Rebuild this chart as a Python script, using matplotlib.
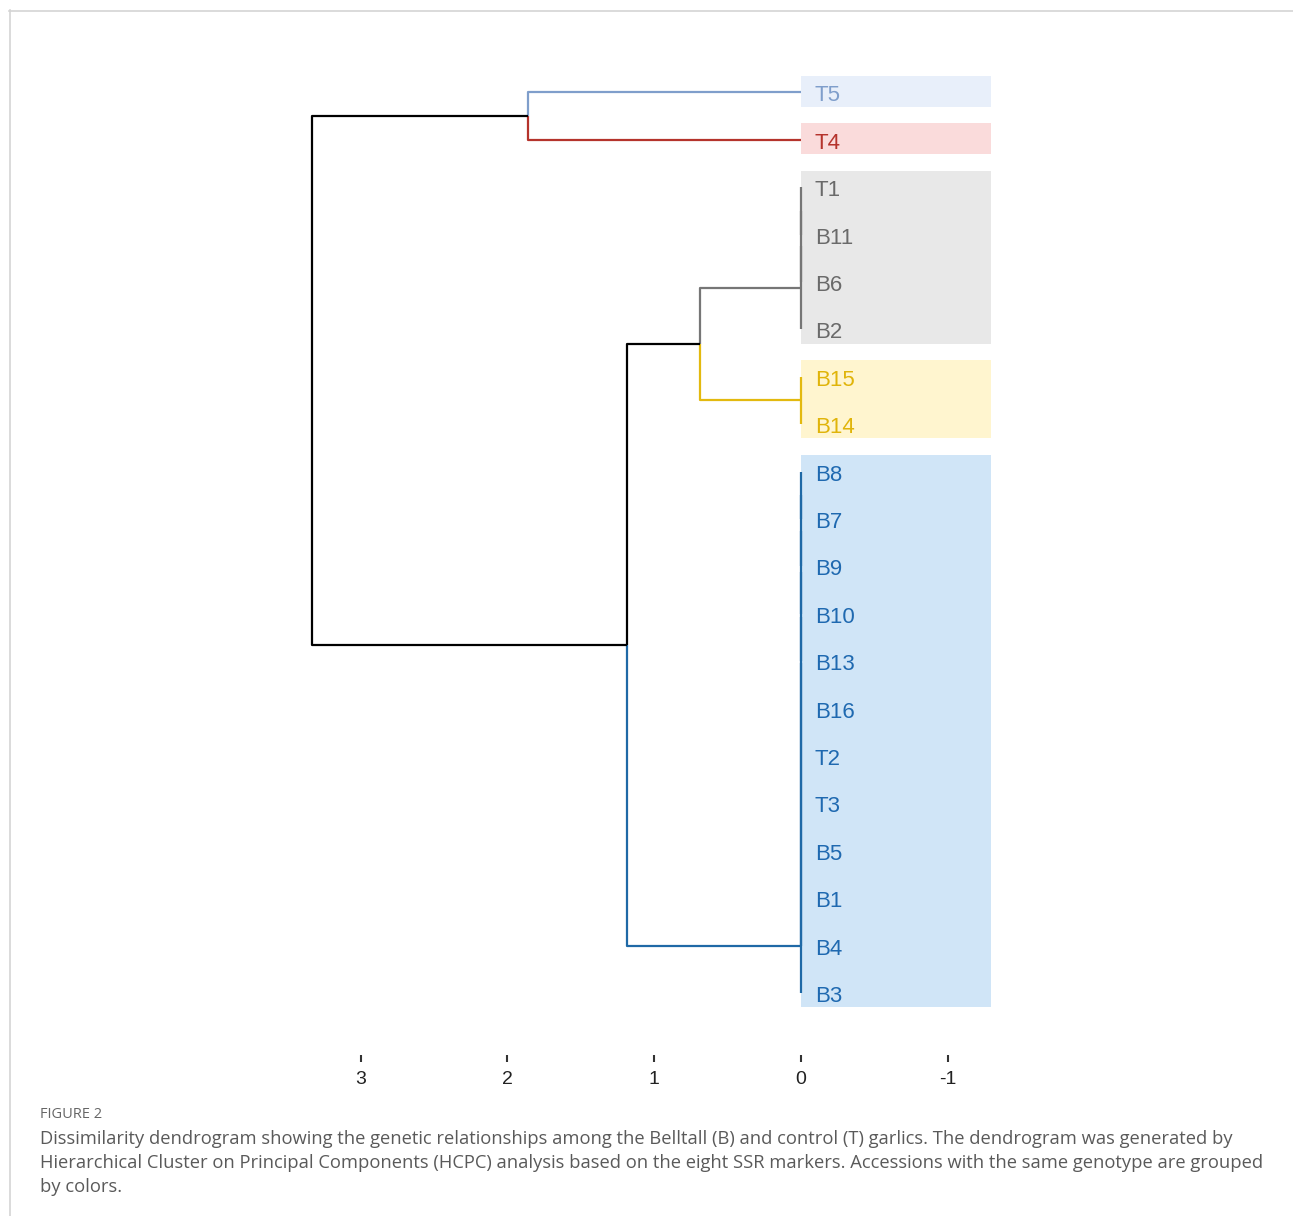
# -*- coding: utf-8 -*-
"""
HCPC dissimilarity dendrogram of Belltall (B) and control (T) garlics,
leaves grouped by genotype with coloured boxes.
"""

import matplotlib
matplotlib.use('Agg')
import matplotlib.pyplot as plt
from matplotlib.patches import Rectangle

# leaves in display order (top to bottom) and their genotype group
labels = ['T5', 'T4', 'T1', 'B11', 'B6', 'B2', 'B15', 'B14',
          'B8', 'B7', 'B9', 'B10', 'B13', 'B16', 'T2', 'T3',
          'B5', 'B1', 'B4', 'B3']
groups = [0, 1, 2, 2, 2, 2, 3, 3,
          4, 4, 4, 4, 4, 4, 4, 4,
          4, 4, 4, 4]

# linkage: node ids 0..19 are leaves, merges get ids 20, 21, ...
link_a = [2, 20, 21, 6, 8, 24, 25, 26, 27, 28, 29, 30, 31, 32, 33, 22, 35, 0, 37]
link_b = [3, 4, 5, 7, 9, 10, 11, 12, 13, 14, 15, 16, 17, 18, 19, 23, 34, 1, 36]
link_h = [0, 0, 0, 0, 0, 0, 0, 0, 0, 0, 0, 0, 0, 0, 0, 0.688, 1.188, 1.862, 3.334]

xticks = [3, 2, 1, 0, -1]

line_colors = ['#7f9ecb', '#b5332c', '#767676', '#e3b90f', '#1f69a6']
text_colors = ['#7f9ecb', '#b5332c', '#6a6a6a', '#e0b40a', '#1f69b0']
box_colors = ['#e8effa', '#fadbdb', '#e8e8e8', '#fff5cf', '#d0e5f7']

caption = [
    "Dissimilarity dendrogram showing the genetic relationships among the Belltall (B) and control (T) garlics. The dendrogram was generated by",
    "Hierarchical Cluster on Principal Components (HCPC) analysis based on the eight SSR markers. Accessions with the same genotype are grouped",
    "by colors.",
]

W, H = 1293, 1216


def fx(px):
    return px / W


def fy(py):
    return 1 - py / H


fig = plt.figure(figsize=(W / 100, H / 100), dpi=100)
fig.patch.set_facecolor('white')

# thin frame at top and left
fig.add_artist(plt.Line2D([fx(9), 1], [fy(10.5), fy(10.5)], color='#d4d4d4', lw=1.2))
fig.add_artist(plt.Line2D([fx(9.5), fx(9.5)], [fy(10), 0], color='#d4d4d4', lw=1.2))

# leaf index -> pixel row: index 0 at 92.3 px, 47.4 px apart
def idx(py):
    return (py - 92.3) / 47.4

ax = fig.add_axes([fx(294.7), fy(1055), (999.1 - 294.7) / W, (1055 - 60) / H])
ax.set_xlim(3.45, -1.35)
ax.set_ylim(idx(1055), idx(60))

n = len(labels)
ypos = {i: float(i) for i in range(n)}
hgt = {i: 0.0 for i in range(n)}
members = {i: {groups[i]} for i in range(n)}
for k, (a, b, h) in enumerate(zip(link_a, link_b, link_h)):
    node = n + k
    ypos[node] = (ypos[a] + ypos[b]) / 2
    hgt[node] = h
    members[node] = members[a] | members[b]


def node_color(node):
    g = members[node]
    return line_colors[next(iter(g))] if len(g) == 1 else 'black'


# genotype boxes
for g in sorted(set(groups)):
    rows = [i for i, gg in enumerate(groups) if gg == g]
    top, bot = rows[0] - 0.35, rows[-1] + 0.3
    ax.add_patch(Rectangle((0, top), -1.295, bot - top, facecolor=box_colors[g],
                           edgecolor='none', zorder=0))

# elbows: vertical at parent height, horizontal back to child height
for k, (a, b, h) in enumerate(zip(link_a, link_b, link_h)):
    node = n + k
    for c in (a, b):
        col = node_color(c)
        ax.plot([h, h, hgt[c]], [ypos[node], ypos[c], ypos[c]],
                color=col, lw=1.6, solid_capstyle='butt', zorder=2)

for i, lab in enumerate(labels):
    ax.annotate(lab, (0, i), xytext=(10.0, -6.6), textcoords='offset points',
                va='baseline', ha='left', fontsize=16, family='Liberation Sans',
                color=text_colors[groups[i]], zorder=3)

for s in ax.spines.values():
    s.set_visible(False)
ax.set_yticks([])
ax.set_xticks(xticks)
ax.set_xticklabels([str(t) for t in xticks], family='Liberation Sans')
ax.tick_params(axis='x', length=5, width=1.5, color='#333333', pad=6.5,
               labelsize=14, labelcolor='#222222')

# caption
fig.text(fx(40), fy(1115), 'FIGURE 2', va='center', ha='left', fontsize=10.5,
         color='#666666', family='Open Sans')
cap_texts = []
for j, line in enumerate(caption):
    cap_texts.append(fig.text(fx(40), fy(1138.5 + 24 * j), line, va='center', ha='left',
                              fontsize=13, color='#5a5a5a', family='Open Sans'))

# size the caption so the first line runs to ~1225 px
fig.canvas.draw()
w0 = cap_texts[0].get_window_extent().width
for t in cap_texts:
    t.set_fontsize(13 * 1185 / w0)

fig.savefig('out.png', dpi=100, facecolor='white')
